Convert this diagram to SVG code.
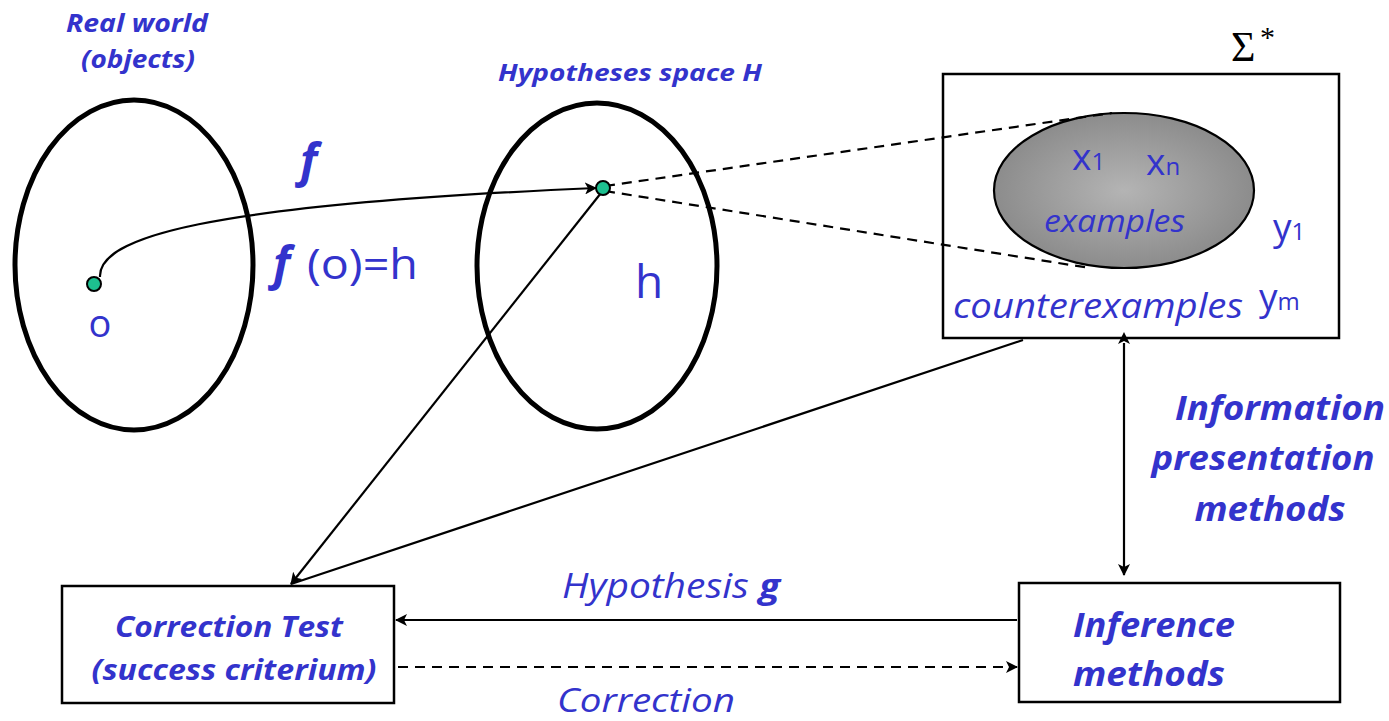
<svg xmlns="http://www.w3.org/2000/svg" width="1389" height="721" viewBox="0 0 1389 721">
<style>
.t{fill:#3333cc;font-family:"Open Sans","Noto Sans",sans-serif}
.bi{font-weight:bold;font-style:italic}
.i{font-style:italic}
.ell{fill:none;stroke:#000;stroke-width:5}
.box{fill:#fff;stroke:#000;stroke-width:2.5}
.ln{fill:none;stroke:#000;stroke-width:2.2}
.dash{fill:none;stroke:#000;stroke-width:2.2;stroke-dasharray:10,7}
.dot{fill:#1dc090;stroke:#000;stroke-width:2}
</style>
<defs>
<marker id="ah" viewBox="0 0 12 12" refX="11" refY="6" markerWidth="12" markerHeight="12" markerUnits="userSpaceOnUse" orient="auto">
<path d="M0,0 L12,6 L0,12 L3,6 z" fill="#000"/>
</marker>
<marker id="ahs" viewBox="0 0 12 12" refX="1" refY="6" markerWidth="12" markerHeight="12" markerUnits="userSpaceOnUse" orient="auto-start-reverse">
<path d="M0,0 L12,6 L0,12 L3,6 z" fill="#000"/>
</marker>
<radialGradient id="g" cx="0.5" cy="0.5" r="0.5">
<stop offset="0" stop-color="#b4b4b4"/>
<stop offset="1" stop-color="#8c8c8c"/>
</radialGradient>
</defs>

<g id="real-world">
<text class="t bi" x="137" y="32" font-size="25" text-anchor="middle" textLength="142" lengthAdjust="spacingAndGlyphs">Real world</text>
<text class="t bi" x="138" y="68" font-size="25" text-anchor="middle" textLength="114" lengthAdjust="spacingAndGlyphs">(objects)</text>
<ellipse class="ell" cx="134" cy="265" rx="119" ry="165"/>
<circle class="dot" cx="94" cy="284" r="7"/>
<text class="t" x="100" y="337" font-size="38" text-anchor="middle">o</text>
</g>

<g id="hypotheses-space">
<text class="t bi" x="630" y="81" font-size="23" text-anchor="middle" textLength="264" lengthAdjust="spacingAndGlyphs">Hypotheses space H</text>
<ellipse class="ell" cx="597" cy="266" rx="120" ry="163"/>
<text class="t" x="649" y="298" font-size="46" text-anchor="middle">h</text>
</g>

<g id="sigma-star">
<text x="1231" y="61" font-family="Liberation Serif, serif" font-size="42" fill="#000">Σ</text>
<text x="1260" y="47" font-family="Liberation Serif, serif" font-size="30" fill="#000">*</text>
<rect class="box" x="943" y="74" width="396" height="264"/>
<ellipse cx="1124" cy="190.5" rx="130" ry="77.5" fill="url(#g)" stroke="#000" stroke-width="2.2"/>
<text class="t" x="1072" y="170" font-size="37">x<tspan font-size="24">1</tspan></text>
<text class="t" x="1146" y="175" font-size="37">x<tspan font-size="24">n</tspan></text>
<text class="t i" x="1044" y="232" font-size="31" textLength="141" lengthAdjust="spacingAndGlyphs">examples</text>
<text class="t" x="1273" y="240" font-size="37">y<tspan font-size="24">1</tspan></text>
<text class="t i" x="953" y="318" font-size="34" textLength="290" lengthAdjust="spacingAndGlyphs">counterexamples</text>
<text class="t" x="1259" y="310" font-size="37">y<tspan font-size="24">m</tspan></text>
</g>

<g id="correction-test">
<rect class="box" x="62" y="586" width="332" height="117"/>
<text class="t bi" x="229" y="637" font-size="29" text-anchor="middle" textLength="228" lengthAdjust="spacingAndGlyphs">Correction Test</text>
<text class="t bi" x="234" y="680" font-size="29" text-anchor="middle" textLength="285" lengthAdjust="spacingAndGlyphs">(success criterium)</text>
</g>

<g id="inference-methods">
<rect class="box" x="1019" y="583" width="321" height="119"/>
<text class="t bi" x="1073" y="637" font-size="34" textLength="162" lengthAdjust="spacingAndGlyphs">Inference</text>
<text class="t bi" x="1073" y="686" font-size="34" textLength="152" lengthAdjust="spacingAndGlyphs">methods</text>
</g>

<g id="info-label">
<text class="t bi" x="1280" y="420" font-size="34" text-anchor="middle" textLength="210" lengthAdjust="spacingAndGlyphs">Information</text>
<text class="t bi" x="1263" y="470" font-size="34" text-anchor="middle" textLength="223" lengthAdjust="spacingAndGlyphs">presentation</text>
<text class="t bi" x="1270" y="521" font-size="34" text-anchor="middle" textLength="151" lengthAdjust="spacingAndGlyphs">methods</text>
</g>

<g id="connectors">
<path class="ln" d="M100,277 C98,238 200,205 596,188" marker-end="url(#ah)"/>
<line class="dash" x1="605" y1="186" x2="1112" y2="113"/>
<line class="dash" x1="605" y1="191" x2="1090" y2="268"/>
<line class="ln" x1="601" y1="193" x2="291" y2="584" marker-end="url(#ah)"/>
<line class="ln" x1="1023" y1="340" x2="291" y2="584"/>
<line class="ln" x1="1124" y1="343" x2="1124" y2="575" marker-start="url(#ahs)" marker-end="url(#ah)"/>
<line class="ln" x1="1017" y1="620" x2="396" y2="620" marker-end="url(#ah)"/>
<line class="dash" x1="398" y1="667" x2="1017" y2="667" marker-end="url(#ah)"/>
</g>

<g id="node-dot-h">
<circle class="dot" cx="603" cy="188" r="7"/>
</g>

<g id="labels">
<text class="t bi" x="300" y="177" font-size="46">f</text>
<text class="t bi" x="273" y="280" font-size="46">f</text>
<text class="t" x="307" y="279" font-size="42" textLength="111" lengthAdjust="spacingAndGlyphs">(o)=h</text>
<text class="t i" x="562" y="598" font-size="34" textLength="218" lengthAdjust="spacingAndGlyphs">Hypothesis <tspan font-weight="bold">g</tspan></text>
<text class="t i" x="557" y="712" font-size="33" textLength="178" lengthAdjust="spacingAndGlyphs">Correction</text>
</g>
</svg>
